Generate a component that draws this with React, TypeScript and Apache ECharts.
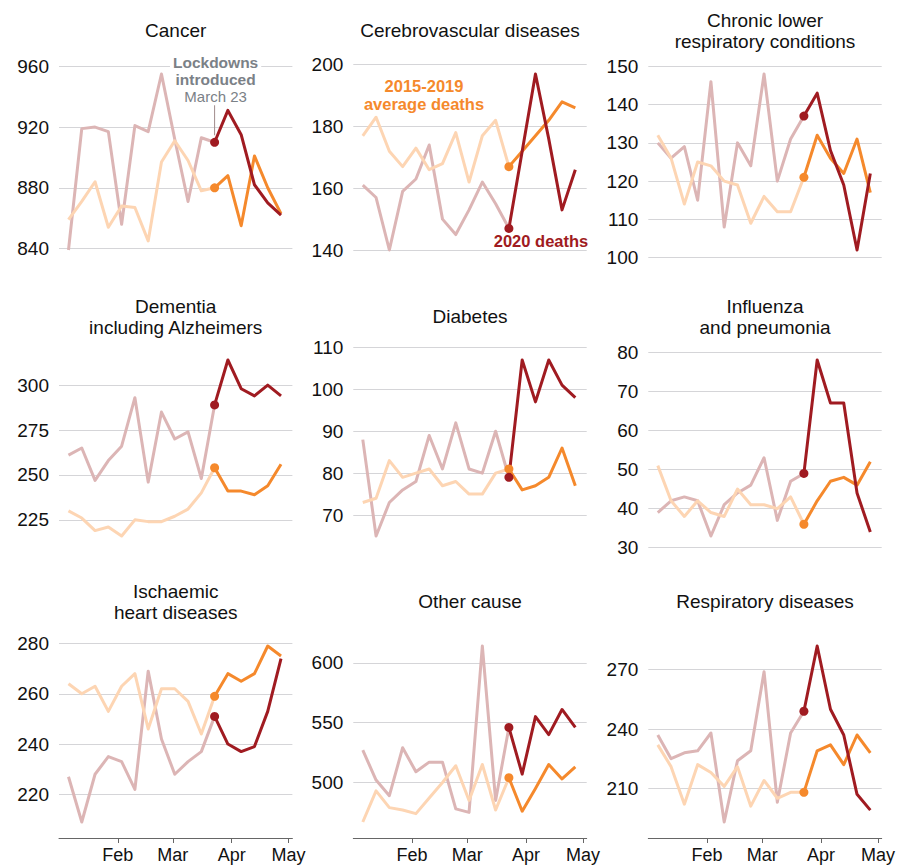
import React, { useEffect, useRef } from "react";
import * as echarts from "echarts";

// ---------- DATA ----------
const weekDates = [
  "2020-01-06", "2020-01-13", "2020-01-20", "2020-01-27", "2020-02-03", "2020-02-10",
  "2020-02-17", "2020-02-24", "2020-03-02", "2020-03-09", "2020-03-16", "2020-03-23",
  "2020-03-30", "2020-04-06", "2020-04-13", "2020-04-20", "2020-04-27",
];
const LOCKDOWN_INDEX = 11; // 2020-03-23

const monthTicks = ["2020-02-01", "2020-03-01", "2020-04-01", "2020-05-01"];
const monthLabels = ["Feb", "Mar", "Apr", "May"];

const cancerDeaths = [839, 919, 920, 917, 856, 921, 917, 955, 912, 871, 913, 910, 931, 915, 882, 870, 862];
const cancerAvg = [859, 871, 884, 854, 868, 867, 845, 897, 911, 898, 878, 880, 888, 855, 901, 880, 863];
const cancerTicks = [840, 880, 920, 960];

const cerebroDeaths = [161, 157, 140, 159, 163, 174, 150, 145, 153, 162, 155, 147, 172, 197, 176, 153, 166];
const cerebroAvg = [177, 183, 172, 167, 173, 166, 168, 178, 162, 177, 182, 167, 172, 177, 182, 188, 186];
const cerebroTicks = [140, 160, 180, 200];

const chronicDeaths = [130, 126, 129, 115, 146, 108, 130, 124, 148, 120, 131, 137, 143, 128, 119, 102, 122];
const chronicAvg = [132, 126, 114, 125, 124, 120, 119, 109, 116, 112, 112, 121, 132, 126, 122, 131, 117];
const chronicTicks = [100, 110, 120, 130, 140, 150];

const dementiaDeaths = [261, 265, 247, 258, 266, 293, 246, 285, 270, 274, 248, 289, 314, 298, 294, 300, 294];
const dementiaAvg = [230, 226, 219, 221, 216, 225, 224, 224, 227, 231, 240, 254, 241, 241, 239, 244, 256];
const dementiaTicks = [225, 250, 275, 300];

const diabetesDeaths = [88, 65, 73, 76, 78, 89, 81, 92, 81, 80, 90, 79, 107, 97, 107, 101, 98];
const diabetesAvg = [73, 74, 83, 79, 80, 81, 77, 78, 75, 75, 80, 81, 76, 77, 79, 86, 77];
const diabetesTicks = [70, 80, 90, 100, 110];

const influenzaDeaths = [39, 42, 43, 42, 33, 41, 44, 46, 53, 37, 47, 49, 78, 67, 67, 44, 34];
const influenzaAvg = [51, 42, 38, 42, 39, 38, 45, 41, 41, 40, 43, 36, 42, 47, 48, 46, 52];
const influenzaTicks = [30, 40, 50, 60, 70, 80];

const ischaemicDeaths = [227, 209, 228, 235, 233, 222, 269, 242, 228, 233, 237, 251, 240, 237, 239, 253, 274];
const ischaemicAvg = [264, 260, 263, 253, 263, 268, 246, 262, 262, 257, 244, 259, 268, 265, 268, 279, 275];
const ischaemicTicks = [220, 240, 260, 280];

const otherDeaths = [527, 502, 489, 529, 509, 517, 517, 478, 475, 614, 485, 546, 507, 555, 540, 561, 546];
const otherAvg = [467, 493, 479, 477, 474, 487, 500, 514, 485, 515, 477, 504, 476, 495, 515, 503, 513];
const otherTicks = [500, 550, 600];

const respDeaths = [237, 225, 228, 229, 238, 193, 224, 229, 269, 203, 238, 249, 282, 250, 237, 207, 199];
const respAvg = [232, 221, 202, 222, 218, 211, 221, 201, 214, 205, 208, 208, 229, 232, 222, 237, 228];
const respTicks = [210, 240, 270];

const panelTitles = [
  "Cancer",
  "Cerebrovascular diseases",
  "Chronic lower\nrespiratory conditions",
  "Dementia\nincluding Alzheimers",
  "Diabetes",
  "Influenza\nand pneumonia",
  "Ischaemic\nheart diseases",
  "Other cause",
  "Respiratory diseases",
];
const panelDeaths = [cancerDeaths, cerebroDeaths, chronicDeaths, dementiaDeaths, diabetesDeaths, influenzaDeaths, ischaemicDeaths, otherDeaths, respDeaths];
const panelAvg = [cancerAvg, cerebroAvg, chronicAvg, dementiaAvg, diabetesAvg, influenzaAvg, ischaemicAvg, otherAvg, respAvg];
const panelTicks = [cancerTicks, cerebroTicks, chronicTicks, dementiaTicks, diabetesTicks, influenzaTicks, ischaemicTicks, otherTicks, respTicks];

// ---------- STYLE / LAYOUT ----------
const FONT = "'Liberation Sans', Arial, Helvetica, sans-serif";
const RED = "#a01b21";
const ORANGE = "#f5892c";
const PINK = "#dcb5b5";
const PEACH = "#fdd5b3";
const GRID_COLOR = "#d5d5d8";
const NOTE_GRAY = "#7b8187";

const COL_LEFT = [59, 353.3, 648.3];
const GRID_W = 233.4;
const ROW_DATA_TOP = [74, 360, 646];
const DATA_H = 176;
const PAD_T = 14;
const TITLE_Y = [30.5, 316.5, 601.8];

const toTime = (d: string) => new Date(d + "T00:00:00Z").getTime();

export default function App() {
  const ref = useRef<HTMLDivElement>(null);

  useEffect(() => {
    document.body.style.margin = "0";
    const chart = echarts.init(ref.current!, null, { renderer: "svg" });
    const times = weekDates.map(toTime);
    const monthTimes = monthTicks.map(toTime);
    const X_MIN = toTime("2020-01-01");
    const X_MAX = toTime("2020-05-03");

    const grids: any[] = [];
    const xAxes: any[] = [];
    const yAxes: any[] = [];
    const series: any[] = [];
    const graphics: any[] = [];

    panelTitles.forEach((title, i) => {
      const r = Math.floor(i / 3);
      const c = i % 3;
      const padB = r === 2 ? 16 : 14;
      const deaths = panelDeaths[i];
      const avg = panelAvg[i];
      grids.push({
        left: COL_LEFT[c],
        top: ROW_DATA_TOP[r] - PAD_T,
        width: GRID_W,
        height: DATA_H + PAD_T + padB,
        containLabel: false,
      });
      xAxes.push({
        gridIndex: i,
        type: "value",
        min: X_MIN,
        max: X_MAX,
        show: r === 2,
        axisLine: { show: true, lineStyle: { color: "#666", width: 1 } },
        axisTick: { show: true, customValues: monthTimes, length: 5, lineStyle: { color: "#666", width: 1 } },
        axisLabel: {
          customValues: monthTimes,
          formatter: (v: number) => {
            const k = monthTimes.indexOf(v);
            return k >= 0 ? monthLabels[k] : "";
          },
          fontSize: 18,
          color: "#111",
          fontFamily: FONT,
          margin: 8,
        },
        splitLine: { show: false },
      });
      yAxes.push({
        gridIndex: i,
        type: "value",
        min: (v: any) => v.min - (padB * (v.max - v.min)) / DATA_H,
        max: (v: any) => v.max + (PAD_T * (v.max - v.min)) / DATA_H,
        axisLine: { show: false },
        axisTick: { show: false, customValues: panelTicks[i] },
        axisLabel: {
          customValues: panelTicks[i],
          fontSize: 19,
          color: "#111",
          fontFamily: FONT,
          margin: 10,
        },
        splitLine: { show: true, lineStyle: { color: GRID_COLOR, width: 1 } },
      });

      const pre = (arr: number[]) => arr.slice(0, LOCKDOWN_INDEX + 1).map((v, k) => [times[k], v]);
      const post = (arr: number[]) => arr.slice(LOCKDOWN_INDEX).map((v, k) => [times[k + LOCKDOWN_INDEX], v]);
      const lineBase = {
        type: "line",
        xAxisIndex: i,
        yAxisIndex: i,
        symbol: "none",
        silent: true,
        clip: false,
      };
      series.push({ ...lineBase, name: "pre2020", data: pre(deaths), lineStyle: { color: PINK, width: 3, join: "round" }, z: 2 });
      series.push({ ...lineBase, name: "preAvg", data: pre(avg), lineStyle: { color: PEACH, width: 3, join: "round" }, z: 2 });
      series.push({ ...lineBase, name: "postAvg", data: post(avg), lineStyle: { color: ORANGE, width: 3, join: "round" }, z: 3 });
      series.push({ ...lineBase, name: "post2020", data: post(deaths), lineStyle: { color: RED, width: 3, join: "round" }, z: 4 });
      series.push({
        type: "scatter",
        xAxisIndex: i,
        yAxisIndex: i,
        silent: true,
        symbolSize: 9,
        z: 5,
        data: [
          { value: [times[LOCKDOWN_INDEX], avg[LOCKDOWN_INDEX]], itemStyle: { color: ORANGE, opacity: 1 } },
          { value: [times[LOCKDOWN_INDEX], deaths[LOCKDOWN_INDEX]], itemStyle: { color: RED, opacity: 1 } },
        ],
      });

      graphics.push({
        type: "text",
        x: COL_LEFT[c] + GRID_W / 2,
        y: TITLE_Y[r],
        silent: true,
        style: {
          text: title,
          fill: "#111",
          fontSize: 19,
          fontFamily: FONT,
          lineHeight: 21,
          align: "center",
          verticalAlign: "middle",
        },
      });
    });

    chart.setOption({
      animation: false,
      grid: grids,
      xAxis: xAxes,
      yAxis: yAxes,
      series,
    });

    // annotations anchored to the lockdown point of the Cancer panel
    const lp = chart.convertToPixel({ xAxisIndex: 0, yAxisIndex: 0 }, [times[LOCKDOWN_INDEX], cancerDeaths[LOCKDOWN_INDEX]]) as number[];
    if (lp && isFinite(lp[0])) {
      graphics.push({
        type: "line",
        silent: true,
        shape: { x1: lp[0], y1: lp[1] - 37, x2: lp[0], y2: lp[1] - 7 },
        style: { stroke: "#a08c8c", lineWidth: 1 },
        z: 10,
      });
      graphics.push({
        type: "text",
        silent: true,
        x: lp[0] + 1,
        y: lp[1] - 71,
        z: 10,
        style: {
          text: "Lockdowns\nintroduced",
          fill: NOTE_GRAY,
          fontSize: 15.5,
          fontWeight: "bold",
          fontFamily: FONT,
          lineHeight: 17,
          align: "center",
          verticalAlign: "middle",
          backgroundColor: "#fff",
          padding: [0, 3],
        },
      });
      graphics.push({
        type: "text",
        silent: true,
        x: lp[0] + 1,
        y: lp[1] - 46,
        z: 10,
        style: {
          text: "March 23",
          fill: NOTE_GRAY,
          fontSize: 15,
          fontFamily: FONT,
          align: "center",
          verticalAlign: "middle",
        },
      });
    }
    graphics.push({
      type: "text",
      silent: true,
      x: 424,
      y: 95,
      z: 10,
      style: {
        text: "2015-2019\naverage deaths",
        fill: ORANGE,
        fontSize: 16.5,
        fontWeight: "bold",
        fontFamily: FONT,
        lineHeight: 18,
        align: "center",
        verticalAlign: "middle",
      },
    });
    graphics.push({
      type: "text",
      silent: true,
      x: 541,
      y: 240.5,
      z: 10,
      style: {
        text: "2020 deaths",
        fill: RED,
        fontSize: 16.5,
        fontWeight: "bold",
        fontFamily: FONT,
        align: "center",
        verticalAlign: "middle",
      },
    });

    chart.setOption({ graphic: graphics });

    return () => chart.dispose();
  }, []);

  return <div ref={ref} style={{ width: 903, height: 866 }} />;
}
